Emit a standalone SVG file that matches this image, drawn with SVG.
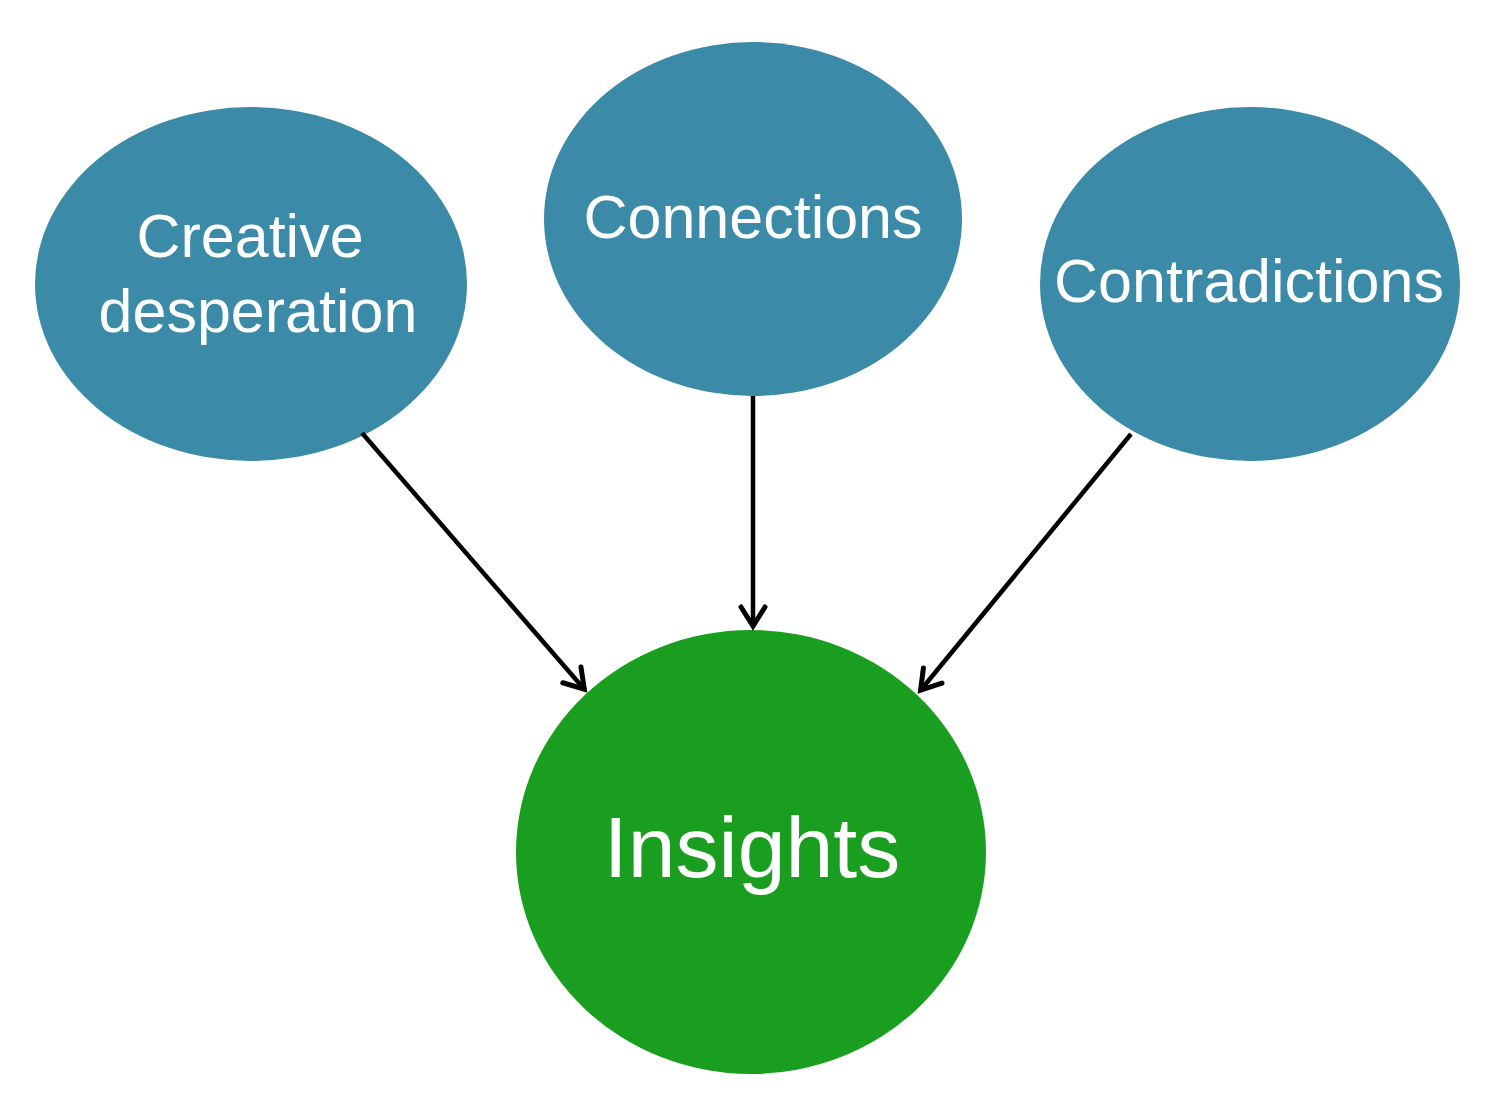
<svg xmlns="http://www.w3.org/2000/svg" width="1506" height="1112" viewBox="0 0 1506 1112">
  <defs>
    <style>
      .src { fill: #3a8aa8; }
      .dst { fill: #1a9e1f; }
      .lbl { font-family: "Liberation Sans", Arial, sans-serif; fill: #ffffff; text-anchor: middle; }
      .edge { stroke: #000000; stroke-width: 4.5; fill: none; }
    </style>
    <marker id="arrow" viewBox="0 0 36 36" refX="32" refY="18" markerWidth="36" markerHeight="36" markerUnits="userSpaceOnUse" orient="auto">
      <path d="M12,6 L31,18 L12,30" fill="none" stroke="#000" stroke-width="5" stroke-linecap="round" stroke-linejoin="miter"/>
    </marker>
  </defs>
  <rect width="1506" height="1112" fill="#ffffff"/>
  <g id="node-creative">
    <ellipse class="src" cx="251" cy="284" rx="216" ry="177"/>
    <text class="lbl" x="250" y="257" font-size="61">Creative</text>
    <text class="lbl" x="258" y="332" font-size="61">desperation</text>
  </g>
  <g id="node-connections">
    <ellipse class="src" cx="753" cy="219" rx="209" ry="177"/>
    <text class="lbl" x="753" y="238" font-size="61">Connections</text>
  </g>
  <g id="node-contradictions">
    <ellipse class="src" cx="1250" cy="284" rx="210" ry="177"/>
    <text class="lbl" x="1249" y="302" font-size="61">Contradictions</text>
  </g>
  <g id="node-insights">
    <ellipse class="dst" cx="751" cy="852" rx="235" ry="222"/>
    <text class="lbl" x="752" y="877" font-size="86">Insights</text>
  </g>
  <g id="connectors">
    <line class="edge" x1="362" y1="433" x2="585" y2="690" marker-end="url(#arrow)"/>
    <line class="edge" x1="753" y1="396" x2="753" y2="627" marker-end="url(#arrow)"/>
    <line class="edge" x1="1131" y1="434" x2="920" y2="691" marker-end="url(#arrow)"/>
  </g>
</svg>
